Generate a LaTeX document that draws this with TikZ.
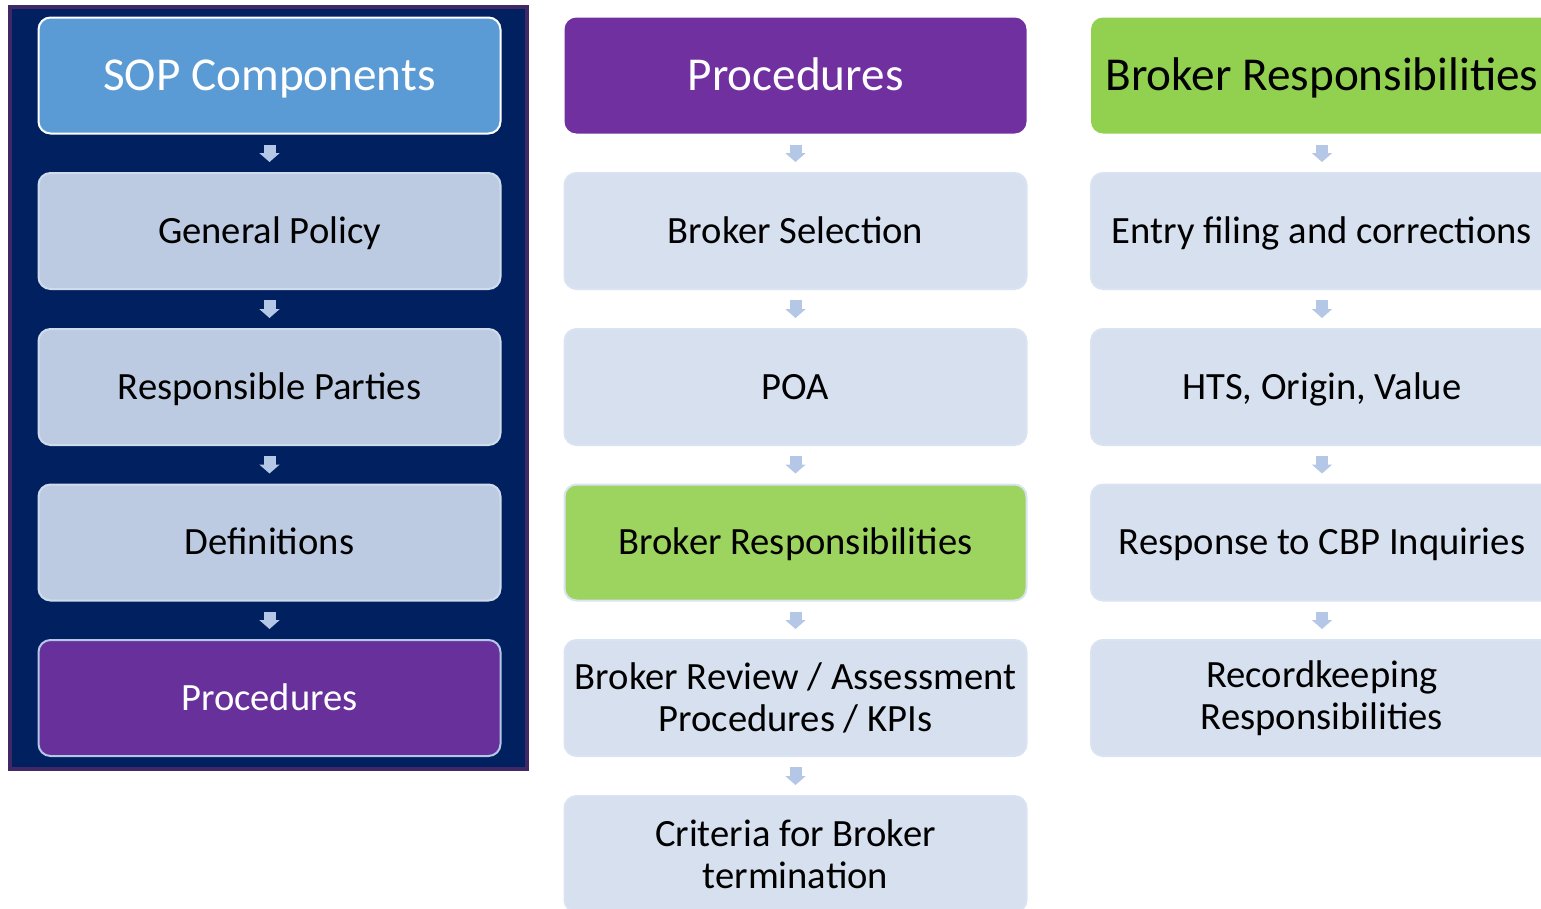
\documentclass[tikz,border=0pt]{standalone}
\usepackage{fontspec}
\setmainfont{Carlito}
\usepackage{xcolor}
\usetikzlibrary{arrows.meta}

\definecolor{navy}{HTML}{002060}
\definecolor{framepurple}{HTML}{402866}
\definecolor{sopblue}{HTML}{5B9BD5}
\definecolor{greyblue}{HTML}{BCCBE2}
\definecolor{greyline}{HTML}{D0DCEC}
\definecolor{paleblue}{HTML}{D6E0EF}
\definecolor{palelinecol}{HTML}{DAE3F1}
\definecolor{arrowblue}{HTML}{B4C7E7}
\definecolor{procpurple}{HTML}{7030A0}
\definecolor{leftpurple}{HTML}{68309A}
\definecolor{brokergreen}{HTML}{92D050}
\definecolor{midgreen}{HTML}{9DD35F}

\begin{document}
\begin{tikzpicture}[
    x=1pt, y=-1pt,
    every node/.style={rounded corners=12pt, minimum width=462pt, minimum height=116pt,
        inner sep=0pt, align=center, line width=2pt, text height=35pt, text depth=10.1pt,
        font=\fontsize{38.6}{42.5}\selectfont},
    head/.style={font=\fontsize{47.2}{52}\selectfont, text height=42pt, text depth=11.6pt},
    wrap/.style={text height={}, text depth={}},
    leftbox/.style={fill=greyblue, draw=greyline},
    palebox/.style={fill=paleblue, draw=palelinecol},
    flow/.style={draw=arrowblue, line width=12pt, shorten <=10pt, shorten >=10pt,
        -{Triangle[width=20pt,length=9pt]}}
]
\useasboundingbox (0,0) rectangle (1541,908);
\clip (0,0) rectangle (1541,908);

% Frame
\fill[navy, draw=framepurple, line width=4pt] (10,7) rectangle (527,769);

% Nodes
\node[head, fill=sopblue, draw=white, text=white] (SOP) at (269.5,75.5) {SOP Components};
\node[leftbox] (GP) at (269.5,231) {General Policy};
\node[leftbox] (RP) at (269.5,387) {Responsible Parties};
\node[leftbox] (DEF) at (269.5,542.5) {Definitions};
\node[fill=leftpurple, draw=arrowblue, text=white] (LP) at (269.5,698) {Procedures};

\node[head, fill=procpurple, text=white] (PR) at (795.5,75.5) {Procedures};
\node[palebox] (BS) at (795.5,231) {Broker Selection};
\node[palebox] (POA) at (795.5,387) {POA};
\node[fill=midgreen, draw=palelinecol] (BR) at (795.5,542.5) {Broker Responsibilities};
\node[palebox, wrap] (REV) at (795.5,698) {Broker Review / Assessment\\Procedures / KPIs};
\node[palebox, wrap] (CRIT) at (795.5,854) {Criteria for Broker\\termination};

\node[head, fill=brokergreen] (BRH) at (1322,75.5) {Broker Responsibilities};
\node[palebox] (ENT) at (1322,231) {Entry filing and corrections};
\node[palebox] (HTS) at (1322,387) {HTS, Origin, Value};
\node[palebox] (CBP) at (1322,542.5) {Response to CBP Inquiries};
\node[palebox, wrap] (REC) at (1322,698) {Recordkeeping\\Responsibilities};

% Edges
\draw[flow] (SOP) -- (GP);
\draw[flow] (GP) -- (RP);
\draw[flow] (RP) -- (DEF);
\draw[flow] (DEF) -- (LP);
\draw[flow] (PR) -- (BS);
\draw[flow] (BS) -- (POA);
\draw[flow] (POA) -- (BR);
\draw[flow] (BR) -- (REV);
\draw[flow] (REV) -- (CRIT);
\draw[flow] (BRH) -- (ENT);
\draw[flow] (ENT) -- (HTS);
\draw[flow] (HTS) -- (CBP);
\draw[flow] (CBP) -- (REC);

\end{tikzpicture}
\end{document}
